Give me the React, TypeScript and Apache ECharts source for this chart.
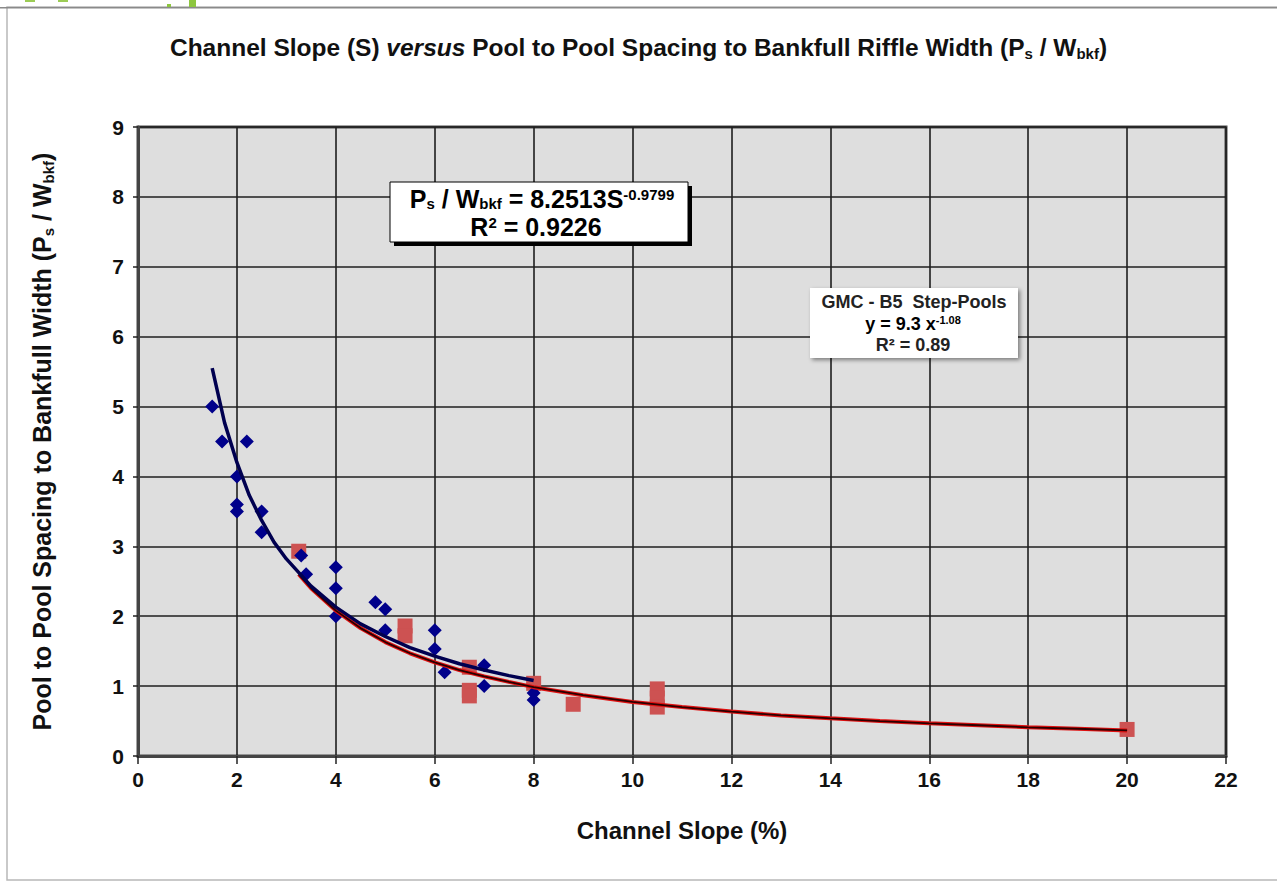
import React, { useEffect, useRef } from "react";
import * as echarts from "echarts";

const FONT = "'Liberation Sans', Arial, sans-serif";

const xTicks = [0, 2, 4, 6, 8, 10, 12, 14, 16, 18, 20, 22];
const yTicks = [0, 1, 2, 3, 4, 5, 6, 7, 8, 9];

// Blue diamonds (channel slope %, Ps/Wbkf)
const blueSlope = [1.5, 1.7, 2.2, 2.0, 2.0, 2.0, 2.5, 2.5, 3.3, 3.4, 4.0, 4.0, 4.0, 4.8, 5.0, 5.0, 6.0, 6.0, 6.2, 7.0, 7.0, 8.0, 8.0];
const blueRatio = [5.0, 4.5, 4.5, 4.0, 3.6, 3.5, 3.5, 3.2, 2.87, 2.6, 2.7, 2.4, 2.0, 2.2, 2.1, 1.8, 1.8, 1.53, 1.2, 1.3, 1.0, 0.9, 0.8];

// Red squares (GMC - B5 step-pools)
const redSlope = [3.25, 5.4, 5.4, 6.7, 6.7, 6.7, 8.0, 8.8, 10.5, 10.5, 10.5, 20.0];
const redRatio = [2.93, 1.86, 1.72, 1.27, 0.94, 0.86, 1.04, 0.74, 0.96, 0.83, 0.7, 0.38];

// Trend curves
const blueCurveX = [1.5, 1.75, 2.0, 2.25, 2.5, 2.75, 3.0, 3.5, 4.0, 4.5, 5.0, 5.5, 6.0, 6.5, 7.0, 7.5, 8.0];
const blueCurveY = [5.55, 4.77, 4.2, 3.73, 3.37, 3.06, 2.82, 2.43, 2.13, 1.89, 1.71, 1.55, 1.43, 1.32, 1.23, 1.15, 1.08];
const redCurveX = [3.25, 3.5, 4, 4.5, 5, 5.5, 6, 6.5, 7, 7.5, 8, 9, 10, 11, 12, 13, 14, 15, 16, 17, 18, 19, 20];
const redCurveY = [2.6, 2.4, 2.08, 1.83, 1.63, 1.47, 1.34, 1.23, 1.14, 1.06, 0.985, 0.87, 0.774, 0.7, 0.636, 0.58, 0.539, 0.5, 0.467, 0.44, 0.411, 0.39, 0.366];

const zip = (a: number[], b: number[]) => a.map((v, i) => [v, b[i]]);

export default function App() {
  const ref = useRef<HTMLDivElement>(null);
  useEffect(() => {
    if (!ref.current) return;
    const chart = echarts.init(ref.current, undefined, { renderer: "svg" });
    const base = { fontFamily: FONT, fontWeight: "bold" as const, color: "#111" };
    chart.setOption({
      animation: false,
      backgroundColor: "#ffffff",
      title: {
        left: "center",
        top: 28,
        text: "{a|Channel Slope (S) }{i|versus}{a| Pool to Pool Spacing to Bankfull Riffle Width (P}{s|s}{a| / W}{s|bkf}{a|)}",
        textStyle: {
          rich: {
            a: { ...base, fontSize: 24.5, lineHeight: 28 },
            i: { ...base, fontSize: 24.5, lineHeight: 28, fontStyle: "italic" },
            s: { ...base, fontSize: 15, lineHeight: 14, verticalAlign: "bottom" },
          },
        },
      },
      grid: {
        left: 138,
        top: 127,
        right: 51,
        bottom: 126,
        show: true,
        backgroundColor: "#dedede",
        borderColor: "#4a4a4a",
        borderWidth: 3,
      },
      xAxis: {
        type: "value",
        min: xTicks[0],
        max: xTicks[xTicks.length - 1],
        interval: 2,
        name: "Channel Slope (%)",
        nameLocation: "middle",
        nameGap: 62,
        nameTextStyle: { ...base, fontSize: 24 },
        axisLine: { show: true, onZero: false, lineStyle: { color: "#444", width: 3 } },
        axisTick: { show: true, length: 8, lineStyle: { color: "#222", width: 1.5 } },
        axisLabel: { ...base, fontSize: 21, margin: 13 },
        splitLine: { show: true, lineStyle: { color: "#1e1e1e", width: 1.6 } },
      },
      yAxis: {
        type: "value",
        min: yTicks[0],
        max: yTicks[yTicks.length - 1],
        interval: 1,
        name: "{a|Pool to Pool Spacing to Bankfull Width (P}{s|s}{a| / W}{s|bkf}{a|)}",
        nameLocation: "middle",
        nameRotate: 90,
        nameGap: 82,
        nameTextStyle: {
          rich: {
            a: { ...base, fontSize: 25, lineHeight: 28 },
            s: { ...base, fontSize: 15, lineHeight: 14, verticalAlign: "bottom" },
          },
        },
        axisLine: { show: true, lineStyle: { color: "#444", width: 3 } },
        axisTick: { show: true, length: 5, lineStyle: { color: "#222", width: 1.5 } },
        axisLabel: { ...base, fontSize: 21, margin: 14 },
        splitLine: { show: true, lineStyle: { color: "#1e1e1e", width: 1.6 } },
      },
      series: [
        {
          type: "scatter",
          data: zip(redSlope, redRatio),
          symbol: "rect",
          symbolSize: [15, 15],
          itemStyle: { color: "#cd5252", opacity: 1 },
          z: 2,
        },
        {
          type: "scatter",
          data: zip(blueSlope, blueRatio),
          symbol: "diamond",
          symbolSize: [14, 14],
          itemStyle: { color: "#00008b", opacity: 1 },
          z: 3,
        },
        {
          type: "line",
          data: zip(redCurveX, redCurveY),
          smooth: false,
          showSymbol: false,
          lineStyle: { color: "#e01010", width: 4 },
          z: 4,
        },
        {
          type: "line",
          data: zip(redCurveX, redCurveY),
          smooth: false,
          showSymbol: false,
          lineStyle: { color: "#2a0000", width: 1.8 },
          z: 5,
        },
        {
          type: "line",
          data: zip(blueCurveX, blueCurveY),
          smooth: false,
          showSymbol: false,
          lineStyle: { color: "#000050", width: 3.5 },
          z: 6,
        },
      ],
      graphic: [
        {
          type: "rect",
          shape: { x: 7, y: 7, width: 1300, height: 873 },
          style: { fill: "none", stroke: "#b8b8b8", lineWidth: 1.5 },
          silent: true,
          z: -10,
        },
        { type: "rect", shape: { x: 0, y: 7, width: 1277, height: 1.5 }, style: { fill: "#8a8a8a" }, silent: true },
        { type: "rect", shape: { x: 25, y: 0, width: 10, height: 2 }, style: { fill: "#9ccc55" }, silent: true },
        { type: "rect", shape: { x: 58, y: 0, width: 10, height: 2 }, style: { fill: "#9ccc55" }, silent: true },
        { type: "rect", shape: { x: 167, y: 4, width: 4, height: 3 }, style: { fill: "#8dc63f" }, silent: true },
        { type: "rect", shape: { x: 189, y: 0, width: 7, height: 7 }, style: { fill: "#8dc63f" }, silent: true },
        // Box 1
        { type: "rect", shape: { x: 394, y: 186, width: 298, height: 60 }, style: { fill: "#000" }, silent: true, z: 10 },
        { type: "rect", shape: { x: 390, y: 182, width: 298, height: 60 }, style: { fill: "#fff", stroke: "#000", lineWidth: 1 }, silent: true, z: 11 },
        {
          type: "text",
          x: 542,
          y: 199,
          z: 12,
          style: {
            text: "{a|P}{s|s}{a| / W}{s|bkf}{a| = 8.2513S}{p|-0.9799}",
            align: "center",
            verticalAlign: "middle",
            rich: {
              a: { ...base, fontSize: 25, lineHeight: 24 },
              s: { ...base, fontSize: 15, lineHeight: 12, verticalAlign: "bottom" },
              p: { ...base, fontSize: 15, lineHeight: 12, verticalAlign: "top" },
            },
          },
        },
        {
          type: "text",
          x: 536,
          y: 227,
          z: 12,
          style: {
            text: "{a|R}{p|2}{a| = 0.9226}",
            align: "center",
            verticalAlign: "middle",
            rich: {
              a: { ...base, fontSize: 25, lineHeight: 24 },
              p: { ...base, fontSize: 15, lineHeight: 14, verticalAlign: "top" },
            },
          },
        },
        // Box 2
        {
          type: "rect",
          shape: { x: 810, y: 288, width: 208, height: 70 },
          style: { fill: "#fff", shadowBlur: 4, shadowColor: "rgba(0,0,0,0.45)", shadowOffsetX: 2, shadowOffsetY: 2 },
          silent: true,
          z: 10,
        },
        {
          type: "text",
          x: 914,
          y: 302,
          z: 12,
          style: { text: "GMC - B5  Step-Pools", align: "center", verticalAlign: "middle", font: `bold 18px ${FONT}`, fill: "#222" },
        },
        {
          type: "text",
          x: 913,
          y: 324,
          z: 12,
          style: {
            text: "{a|y = 9.3 x}{p|-1.08}",
            align: "center",
            verticalAlign: "middle",
            rich: {
              a: { ...base, color: "#222", fontSize: 18, lineHeight: 20 },
              p: { ...base, color: "#222", fontSize: 11, lineHeight: 10, verticalAlign: "top" },
            },
          },
        },
        {
          type: "text",
          x: 913,
          y: 345,
          z: 12,
          style: { text: "R² = 0.89", align: "center", verticalAlign: "middle", font: `bold 18px ${FONT}`, fill: "#222" },
        },
      ],
    });
    return () => chart.dispose();
  }, []);
  return (
    <div
      ref={ref}
      style={{ position: "absolute", left: 0, top: 0, width: 1277, height: 882 }}
    />
  );
}
